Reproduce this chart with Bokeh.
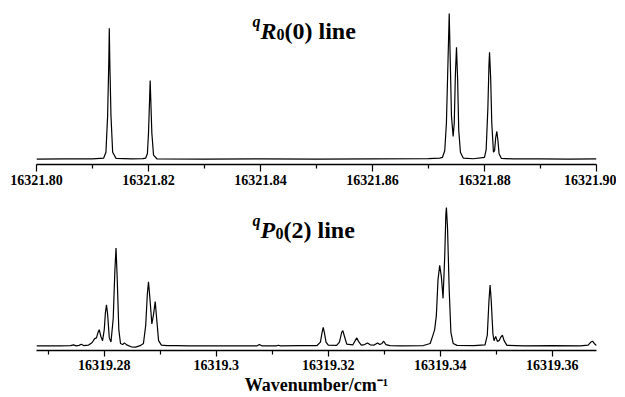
from bokeh.plotting import figure
from bokeh.layouts import column
from bokeh.models import Range1d, FixedTicker, CustomJSTickFormatter, Label
from bokeh.embed import file_html
from bokeh.resources import INLINE

# ---------------- data ----------------
# upper panel: qR0(0) line
r_wavenumber = [
    16321.8000, 16321.8050, 16321.8100, 16321.8120, 16321.8124, 16321.8127, 16321.8129,
    16321.8130, 16321.8131, 16321.8133, 16321.8136, 16321.8142, 16321.8170, 16321.8190,
    16321.8195, 16321.8198, 16321.8200, 16321.8202, 16321.8203, 16321.8204, 16321.8206,
    16321.8209, 16321.8215, 16321.8300, 16321.8400, 16321.8500, 16321.8600, 16321.8700,
    16321.8720, 16321.8725, 16321.8729, 16321.8732, 16321.8735, 16321.8737, 16321.8739,
    16321.8741, 16321.8744, 16321.8746, 16321.8748, 16321.8750, 16321.8752, 16321.8754,
    16321.8757, 16321.8762, 16321.8780, 16321.8800, 16321.8803, 16321.8806, 16321.8808,
    16321.8809, 16321.8811, 16321.8813, 16321.8816, 16321.8818, 16321.8820, 16321.8822,
    16321.8824, 16321.8826, 16321.8830, 16321.8850, 16321.8900, 16321.8950, 16321.9000,
]
r_intensity = [
    0.003, 0.005, 0.004, 0.010, 0.050, 0.300, 0.650,
    0.899, 0.650, 0.300, 0.050, 0.008, 0.004, 0.006,
    0.010, 0.040, 0.180, 0.420, 0.541, 0.420, 0.180,
    0.030, 0.005, 0.003, 0.005, 0.003, 0.004, 0.006,
    0.010, 0.015, 0.060, 0.250, 0.700, 1.000, 0.650,
    0.300, 0.158, 0.250, 0.580, 0.769, 0.550, 0.200,
    0.050, 0.010, 0.005, 0.015, 0.070, 0.350, 0.650,
    0.735, 0.560, 0.250, 0.050, 0.060, 0.150, 0.192,
    0.130, 0.040, 0.008, 0.004, 0.004, 0.003, 0.004,
]
r_ticks = [16321.80, 16321.82, 16321.84, 16321.86, 16321.88, 16321.90]
r_minor_ticks = [16321.81, 16321.83, 16321.85, 16321.87, 16321.89]
r_tick_labels = ["16321.80", "16321.82", "16321.84", "16321.86", "16321.88", "16321.90"]

# lower panel: qP0(2) line
p_wavenumber = [
    16319.2679, 16319.2700, 16319.2720, 16319.2740, 16319.2745, 16319.2750, 16319.2755,
    16319.2759, 16319.2763, 16319.2772, 16319.2778, 16319.2783, 16319.2786, 16319.2789,
    16319.2791, 16319.2794, 16319.2797, 16319.2800, 16319.2802, 16319.2804, 16319.2806,
    16319.2809, 16319.2812, 16319.2816, 16319.2819, 16319.2821, 16319.2823, 16319.2826,
    16319.2829, 16319.2833, 16319.2836, 16319.2840, 16319.2848, 16319.2856, 16319.2864,
    16319.2870, 16319.2874, 16319.2877, 16319.2879, 16319.2882, 16319.2885, 16319.2888,
    16319.2891, 16319.2894, 16319.2897, 16319.2902, 16319.2912, 16319.2930, 16319.2950,
    16319.3000, 16319.3050, 16319.3073, 16319.3077, 16319.3081, 16319.3107, 16319.3111,
    16319.3115, 16319.3150, 16319.3180, 16319.3186, 16319.3189, 16319.3191, 16319.3193,
    16319.3196, 16319.3200, 16319.3215, 16319.3220, 16319.3224, 16319.3226, 16319.3229,
    16319.3233, 16319.3244, 16319.3248, 16319.3251, 16319.3254, 16319.3259, 16319.3265,
    16319.3270, 16319.3275, 16319.3282, 16319.3288, 16319.3292, 16319.3296, 16319.3299,
    16319.3303, 16319.3310, 16319.3330, 16319.3370, 16319.3382, 16319.3387, 16319.3390,
    16319.3393, 16319.3396, 16319.3399, 16319.3402, 16319.3405, 16319.3408, 16319.3410,
    16319.3411, 16319.3413, 16319.3416, 16319.3419, 16319.3423, 16319.3430, 16319.3460,
    16319.3480, 16319.3484, 16319.3487, 16319.3489, 16319.3491, 16319.3494, 16319.3496,
    16319.3499, 16319.3502, 16319.3505, 16319.3508, 16319.3511, 16319.3514, 16319.3519,
    16319.3550, 16319.3600, 16319.3650, 16319.3664, 16319.3669, 16319.3672, 16319.3675,
    16319.3679,
]
p_intensity = [
    0.002, 0.003, 0.002, 0.004, 0.010, 0.003, 0.006,
    0.014, 0.005, 0.008, 0.025, 0.055, 0.060, 0.100,
    0.119, 0.070, 0.040, 0.120, 0.240, 0.298, 0.230,
    0.060, 0.030, 0.200, 0.550, 0.707, 0.500, 0.120,
    0.020, 0.012, 0.024, 0.010, -0.004, -0.006, 0.004,
    0.020, 0.150, 0.380, 0.464, 0.320, 0.160, 0.230,
    0.321, 0.180, 0.040, 0.008, 0.004, 0.005, 0.002,
    0.003, 0.002, 0.003, 0.012, 0.003, 0.002, 0.007,
    0.002, 0.004, 0.005, 0.030, 0.100, 0.136, 0.100,
    0.030, 0.008, 0.006, 0.030, 0.100, 0.112, 0.070,
    0.015, 0.010, 0.040, 0.060, 0.035, 0.008, 0.012,
    0.024, 0.010, 0.008, 0.024, 0.012, 0.020, 0.036,
    0.012, 0.004, 0.003, 0.005, 0.020, 0.080, 0.120,
    0.220, 0.480, 0.583, 0.500, 0.345, 0.650, 0.950,
    1.000, 0.850, 0.400, 0.100, 0.020, 0.006, 0.004,
    0.010, 0.080, 0.330, 0.440, 0.330, 0.090, 0.040,
    0.071, 0.035, 0.040, 0.065, 0.079, 0.040, 0.006,
    0.003, 0.004, 0.003, 0.008, 0.030, 0.036, 0.020,
    0.005,
]
p_ticks = [16319.28, 16319.30, 16319.32, 16319.34, 16319.36]
p_minor_ticks = [16319.27, 16319.29, 16319.31, 16319.33, 16319.35]
p_tick_labels = ["16319.28", "16319.3", "16319.32", "16319.34", "16319.36"]
x_axis_title = "Wavenumber/cm\u207b\u00b9"

FONT = "Liberation Serif, Times New Roman, Times, serif"
FMT_CODE = """
const i = tvals.findIndex(t => Math.abs(t - tick) < 1e-6);
return i >= 0 ? tlabels[i] : '';
"""


def make_panel(xr, yr, ticks, minor, labels, height, border_top, border_bottom, major_out):
    p = figure(width=616, height=height, x_range=xr, y_range=yr,
               output_backend="svg", toolbar_location=None,
               min_border_left=36, min_border_right=20,
               min_border_top=border_top, min_border_bottom=border_bottom)
    p.yaxis.visible = False
    p.xgrid.visible = False
    p.ygrid.visible = False
    p.outline_line_color = None
    p.background_fill_color = "white"
    p.border_fill_color = "white"
    ax = p.xaxis[0]
    ax.ticker = FixedTicker(ticks=ticks, minor_ticks=minor)
    ax.formatter = CustomJSTickFormatter(args=dict(tvals=ticks, tlabels=labels), code=FMT_CODE)
    ax.axis_line_color = "black"
    ax.axis_line_width = 1.5
    ax.major_tick_line_color = "black"
    ax.major_tick_line_width = 1.2
    ax.minor_tick_line_color = "black"
    ax.minor_tick_line_width = 1.2
    ax.major_tick_in = 0
    ax.major_tick_out = major_out
    ax.minor_tick_in = 0
    ax.minor_tick_out = 4
    ax.major_label_standoff = 3
    ax.major_label_text_font = FONT
    ax.major_label_text_font_style = "bold"
    ax.major_label_text_font_size = "14px"
    ax.major_label_text_color = "black"
    return p


def add_text(p, x, y, text, size, style):
    p.add_layout(Label(x=x, y=y, x_units="screen", y_units="screen", text=text,
                       text_font=FONT, text_font_style=style, text_font_size=size,
                       text_color="black", text_baseline="alphabetic", text_align="left"))


# upper panel
p1 = make_panel(Range1d(16321.80, 16321.90), Range1d(-0.0342, 1.0205),
                r_ticks, r_minor_ticks, r_tick_labels, 196, 10, 32, 7)
p1.line(r_wavenumber, r_intensity, line_color="black", line_width=1.2)
add_text(p1, 216, 143, "q", "16px", "bold italic")
add_text(p1, 224, 134, "R", "24px", "bold italic")
add_text(p1, 240, 130, "0", "16px", "bold")
add_text(p1, 248, 134, "(0) line", "24px", "bold")

# lower panel
p2 = make_panel(Range1d(16319.2679, 16319.3679), Range1d(-0.0308, 1.0644),
                p_ticks, p_minor_ticks, p_tick_labels, 201, 2, 46, 6)
p2.line(p_wavenumber, p_intensity, line_color="black", line_width=1.2)
add_text(p2, 216, 130, "q", "16px", "bold italic")
add_text(p2, 224, 121, "P", "24px", "bold italic")
add_text(p2, 239, 117, "0", "16px", "bold")
add_text(p2, 247, 121, "(2) line", "24px", "bold")
ax2 = p2.xaxis[0]
ax2.axis_label = x_axis_title
ax2.axis_label_text_font = FONT
ax2.axis_label_text_font_style = "bold"
ax2.axis_label_text_font_size = "18px"
ax2.axis_label_text_color = "black"
ax2.axis_label_standoff = 2

layout = column(p1, p2, spacing=0)
open("out.html", "w").write(file_html(layout, INLINE))
